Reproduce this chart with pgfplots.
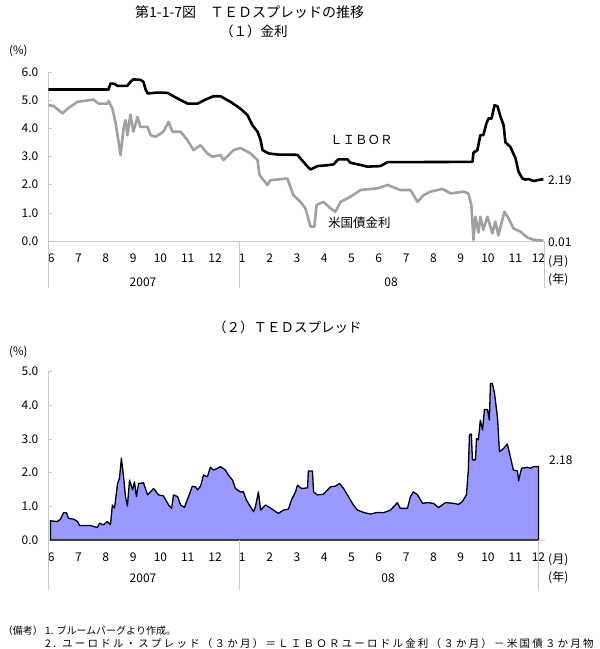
\documentclass[border=0pt]{standalone}
\usepackage{fontspec}
\setmainfont{Noto Sans CJK JP}
\usepackage{pgfplots}
\pgfplotsset{compat=1.18}
\definecolor{tbgray}{RGB}{160,160,160}
\definecolor{axgray}{RGB}{200,200,200}
\definecolor{tedfill}{RGB}{153,153,255}
\pgfplotsset{
  tedbase/.style={
    scale only axis, width=496pt, clip=false,
    xmin=0, xmax=18.17,
    axis x line*=bottom, axis y line*=left,
    axis line style={-, draw=axgray, line width=0.6pt},
    xtick={0.1,1.1,2.1,3.1,4.1,5.1,6.1,7.1,8.1,9.1,10.1,11.1,12.1,13.1,14.1,15.1,16.1,17.1,17.95},
    xticklabels={6,7,8,9,10,11,12,1,2,3,4,5,6,7,8,9,10,11,12},
    major x tick style={draw=none},
    major y tick style={draw=axgray, line width=0.6pt},
    tick align=inside, major tick length=3pt,
    xticklabel style={font=\fontsize{12}{12}\selectfont, inner sep=0pt, anchor=base, yshift=-21.5pt},
    yticklabel style={font=\fontsize{12}{12}\selectfont, inner sep=0pt, anchor=east, xshift=-10pt},
  }
}
\begin{document}
\begin{tikzpicture}
\useasboundingbox (0pt,0pt) rectangle (600pt,-649pt);
% titles
\node[anchor=west, inner sep=0pt, font=\fontsize{14}{14}\selectfont] at (135pt,-12pt) {第1-1-7図　ＴＥＤスプレッドの推移};
\node[anchor=west, inner sep=0pt, font=\fontsize{13.5}{14}\selectfont] at (220pt,-31pt) {（１）金利};
\node[anchor=west, inner sep=0pt, font=\fontsize{11.5}{12}\selectfont] at (9pt,-51pt) {(\%)};
% ---------- top chart ----------
\begin{axis}[tedbase, at={(48.5pt,-241pt)}, anchor=south west, height=169pt,
  ymin=0, ymax=6, ytick={0,1,2,3,4,5,6},
  yticklabels={0.0,1.0,2.0,3.0,4.0,5.0,6.0}]
\addplot[black, line width=2.6pt, line join=round] coordinates {
(0.00,5.38) (2.20,5.38) (2.27,5.59) (2.42,5.58) (2.53,5.51) (2.89,5.51) (3.00,5.65) (3.11,5.74) (3.37,5.72) (3.48,5.65) (3.55,5.40) (3.63,5.24) (3.99,5.27) (4.36,5.26) (4.65,5.10) (5.09,4.88) (5.46,4.88) (5.75,5.02) (6.04,5.14) (6.30,5.14) (6.41,5.08) (6.67,4.94) (7.03,4.70) (7.29,4.47) (7.47,4.11) (7.66,3.88) (7.77,3.58) (7.84,3.23) (8.06,3.11) (8.39,3.07) (9.12,3.06) (9.23,2.93) (9.34,2.81) (9.49,2.64) (9.60,2.54) (9.85,2.66) (10.22,2.69) (10.44,2.72) (10.62,2.90) (10.95,2.90) (11.06,2.78) (11.43,2.70) (11.68,2.64) (12.16,2.66) (12.42,2.80) (12.89,2.80) (15.53,2.81) (15.57,3.14) (15.71,3.22) (15.82,3.76) (15.93,3.76) (16.04,4.17) (16.12,4.35) (16.23,4.35) (16.34,4.82) (16.45,4.78) (16.56,4.41) (16.67,4.12) (16.74,3.50) (16.92,3.34) (17.11,2.93) (17.22,2.46) (17.36,2.22) (17.47,2.18) (17.58,2.20) (17.77,2.13) (18.02,2.18) (18.13,2.19)
};
\addplot[tbgray, line width=2.6pt, line join=round] coordinates {
(0.00,4.82) (0.18,4.80) (0.51,4.53) (0.70,4.70) (1.06,4.94) (1.65,5.02) (1.83,4.88) (2.16,4.88) (2.20,4.97) (2.34,4.70) (2.45,4.23) (2.53,3.76) (2.64,3.05) (2.75,4.00) (2.82,4.29) (2.89,3.76) (3.00,4.49) (3.11,3.88) (3.26,4.41) (3.37,4.05) (3.63,4.05) (3.74,3.76) (3.92,3.70) (4.21,3.88) (4.40,4.23) (4.54,3.88) (4.84,3.88) (5.09,3.58) (5.31,3.23) (5.57,3.40) (5.82,3.11) (6.01,2.99) (6.30,3.05) (6.41,2.87) (6.78,3.23) (7.03,3.30) (7.40,3.11) (7.66,2.87) (7.73,2.34) (8.02,1.99) (8.13,2.16) (8.75,2.22) (8.97,1.63) (9.23,1.39) (9.41,1.16) (9.60,0.51) (9.74,0.51) (9.82,1.28) (10.07,1.39) (10.33,1.16) (10.51,1.04) (10.70,1.39) (11.06,1.57) (11.43,1.81) (12.05,1.87) (12.42,1.99) (12.89,1.81) (13.26,1.81) (13.52,1.39) (13.74,1.63) (13.99,1.75) (14.43,1.85) (14.73,1.69) (15.20,1.75) (15.38,1.69) (15.49,1.28) (15.57,0.04) (15.64,0.86) (15.75,0.30) (15.82,0.86) (15.93,0.40) (16.08,0.86) (16.26,0.27) (16.37,0.69) (16.48,0.20) (16.70,1.04) (16.85,0.81) (17.03,0.45) (17.29,0.33) (17.55,0.12) (17.77,0.05) (18.13,0.01)
};
\draw[axgray, line width=0.6pt] (axis cs:0,0) -- ++(0pt,-47pt);
\draw[axgray, line width=0.6pt] (axis cs:7,0) -- ++(0pt,-47pt);
\draw[axgray, line width=0.6pt] (axis cs:18.17,0) -- ++(0pt,-47pt);
\end{axis}
\node[anchor=west, inner sep=0pt, font=\fontsize{12.5}{13}\selectfont] at (330pt,-140pt) {ＬＩＢＯＲ};
\node[anchor=west, inner sep=0pt, font=\fontsize{12.5}{13}\selectfont] at (328pt,-223pt) {米国債金利};
\node[anchor=west, inner sep=0pt, font=\fontsize{12}{12}\selectfont] at (548pt,-180pt) {2.19};
\node[anchor=west, inner sep=0pt, font=\fontsize{12}{12}\selectfont] at (548pt,-242pt) {0.01};
\node[anchor=west, inner sep=0pt, font=\fontsize{12}{12}\selectfont] at (548pt,-262pt) {(月)};
\node[anchor=west, inner sep=0pt, font=\fontsize{12}{12}\selectfont] at (548pt,-280pt) {(年)};
\node[inner sep=0pt, font=\fontsize{12}{12}\selectfont] at (143pt,-282pt) {2007};
\node[inner sep=0pt, font=\fontsize{12}{12}\selectfont] at (391pt,-282pt) {08};
% ---------- bottom chart ----------
\node[anchor=west, inner sep=0pt, font=\fontsize{13.5}{14}\selectfont] at (213pt,-327pt) {（２）ＴＥＤスプレッド};
\node[anchor=west, inner sep=0pt, font=\fontsize{11.5}{12}\selectfont] at (9pt,-352pt) {(\%)};
\begin{axis}[tedbase, at={(48.5pt,-540pt)}, anchor=south west, height=168.3pt,
  ymin=0, ymax=5, ytick={0,1,2,3,4,5},
  yticklabels={0.0,1.0,2.0,3.0,4.0,5.0}]
\addplot[fill=tedfill, draw=black, line width=1.3pt, line join=round] coordinates {
(0.07,0.57) (0.33,0.55) (0.44,0.62) (0.55,0.81) (0.66,0.81) (0.73,0.64) (0.92,0.62) (1.06,0.55) (1.14,0.43) (1.54,0.43) (1.79,0.37) (1.87,0.50) (2.01,0.45) (2.16,0.55) (2.27,0.45) (2.34,1.04) (2.42,0.95) (2.53,1.68) (2.60,1.83) (2.67,2.43) (2.75,1.88) (2.82,1.29) (2.89,1.01) (2.97,1.78) (3.08,1.49) (3.15,1.73) (3.22,1.29) (3.30,1.68) (3.48,1.70) (3.63,1.34) (3.85,1.53) (4.03,1.34) (4.21,1.31) (4.40,1.04) (4.51,0.94) (4.58,1.34) (4.73,1.29) (4.84,1.04) (4.98,0.97) (5.13,1.29) (5.27,1.60) (5.38,1.58) (5.46,1.49) (5.57,1.60) (5.68,1.93) (5.82,1.88) (5.93,2.16) (6.04,2.08) (6.19,2.13) (6.30,2.18) (6.48,2.08) (6.59,1.93) (6.74,1.78) (6.85,1.53) (7.03,1.43) (7.14,1.43) (7.25,1.19) (7.36,1.04) (7.51,0.84) (7.58,0.99) (7.69,1.43) (7.77,0.89) (7.95,1.04) (8.06,0.99) (8.24,0.89) (8.42,0.79) (8.61,0.89) (8.79,0.92) (8.90,1.19) (9.05,1.43) (9.12,1.63) (9.27,1.53) (9.49,1.55) (9.52,2.05) (9.67,2.05) (9.71,1.43) (9.85,1.34) (10.07,1.36) (10.33,1.58) (10.51,1.60) (10.66,1.68) (10.81,1.53) (10.95,1.34) (11.17,1.04) (11.32,0.89) (11.54,0.82) (11.79,0.77) (12.05,0.82) (12.27,0.81) (12.53,0.89) (12.78,1.11) (12.89,0.94) (13.15,0.94) (13.26,1.29) (13.37,1.43) (13.52,1.34) (13.70,1.09) (13.88,1.11) (14.10,1.09) (14.29,0.96) (14.54,1.11) (14.84,1.09) (15.02,1.06) (15.16,1.14) (15.31,1.34) (15.38,2.08) (15.42,3.12) (15.49,3.15) (15.53,2.38) (15.64,2.38) (15.68,3.02) (15.75,2.98) (15.82,3.56) (15.90,3.27) (15.97,3.88) (16.08,3.88) (16.15,3.56) (16.19,4.65) (16.26,4.65) (16.34,4.36) (16.45,3.61) (16.52,2.62) (16.67,2.72) (16.81,2.85) (16.89,2.57) (17.03,2.08) (17.18,2.05) (17.22,1.76) (17.33,2.13) (17.55,2.16) (17.66,2.13) (17.77,2.18) (17.95,2.18)
} \closedcycle;
\draw[axgray, line width=0.6pt] (axis cs:0,0) -- ++(0pt,-50pt);
\draw[axgray, line width=0.6pt] (axis cs:7,0) -- ++(0pt,-50pt);
\draw[axgray, line width=0.6pt] (axis cs:17.95,0) -- ++(0pt,-50pt);
\end{axis}
\node[anchor=west, inner sep=0pt, font=\fontsize{12}{12}\selectfont] at (549pt,-460pt) {2.18};
\node[anchor=west, inner sep=0pt, font=\fontsize{12}{12}\selectfont] at (548pt,-560pt) {(月)};
\node[anchor=west, inner sep=0pt, font=\fontsize{12}{12}\selectfont] at (548pt,-578pt) {(年)};
\node[inner sep=0pt, font=\fontsize{12}{12}\selectfont] at (143pt,-578pt) {2007};
\node[inner sep=0pt, font=\fontsize{12}{12}\selectfont] at (388pt,-578pt) {08};
% notes
\node[anchor=east, inner sep=0pt, font=\fontsize{10}{10}\selectfont] at (43pt,-631pt) {（備考）};
\node[anchor=west, inner sep=0pt, font=\fontsize{10}{10}\selectfont] at (45pt,-631pt) {1. ブルームバーグより作成。};
\node[anchor=west, inner sep=0pt, font=\fontsize{10.5}{11}\selectfont\addfontfeatures{LetterSpace=21}] at (45pt,-644pt) {2. ユーロドル・スプレッド（３か月）＝ＬＩＢＯＲユーロドル金利（３か月）－米国債３か月物};
\end{tikzpicture}
\end{document}
